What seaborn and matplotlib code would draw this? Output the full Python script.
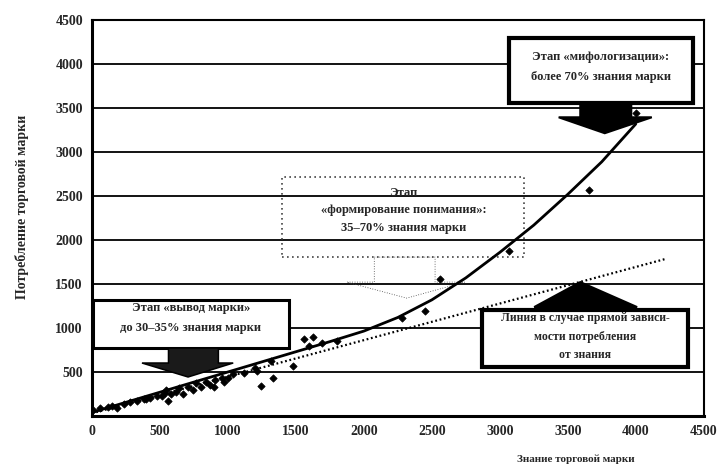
import matplotlib
matplotlib.use("Agg")
import matplotlib.pyplot as plt
import numpy as np
import pandas as pd
import seaborn as sns
from matplotlib.patches import Polygon

# Scatter: brand awareness vs. brand consumption
awareness = [7, 58, 115, 151, 187, 238, 281, 332, 382, 397, 425, 476, 512, 534, 548,
             562, 584, 620, 642, 671, 707, 743, 764, 800, 836, 872, 901, 908, 959,
             973, 1002, 1038, 1118, 1197, 1211, 1247, 1319, 1334, 1478, 1557, 1593,
             1629, 1694, 1802, 2278, 2451, 2560, 3064, 3656, 4002]
consumption = [64, 85, 106, 117, 85, 138, 160, 170, 192, 192, 202, 223, 223, 266, 298,
               170, 245, 277, 319, 245, 330, 298, 372, 330, 383, 351, 330, 404, 426,
               383, 436, 479, 490, 543, 511, 340, 620, 426, 565, 880, 793,
               902, 826, 848, 1110, 1189, 1558, 1872, 2570, 3440]

# Trend curve
curve_x = [0, 250, 500, 750, 1000, 1250, 1500, 1750, 2000, 2250, 2500, 2750,
           3000, 3250, 3500, 3750, 4000]
curve_y = [40, 155, 270, 385, 500, 615, 730, 845, 965, 1120, 1320, 1570,
           1860, 2170, 2520, 2890, 3320]

# Straight-dependence line (dotted)
line_x = [0, 4230]
line_y = [30, 1790]

xticks = [0, 500, 1000, 1500, 2000, 2500, 3000, 3500, 4000, 4500]
yticks = [500, 1000, 1500, 2000, 2500, 3000, 3500, 4000, 4500]

sns.set_style("white")
plt.rcParams['font.family'] = ['Liberation Serif', 'DejaVu Serif']
plt.rcParams['font.weight'] = 'bold'

fig = plt.figure(figsize=(7.24, 4.70), dpi=100)
ax = fig.add_axes([0.127, 0.115, 0.845, 0.842])

pts = pd.DataFrame({"x": awareness, "y": consumption})
sns.scatterplot(data=pts, x="x", y="y", ax=ax, marker="D", s=14,
                color="black", edgecolor="black", linewidth=0.5, zorder=6)
sns.lineplot(x=curve_x, y=curve_y, ax=ax, color="black", linewidth=2.0, zorder=5)
ax.plot(line_x, line_y, color="black", linewidth=1.6, linestyle=(0, (0.8, 1.2)), zorder=5)

ax.set_xlim(0, 4500)
ax.set_ylim(0, 4500)
ax.set_xticks(xticks)
ax.set_yticks(yticks)
ax.tick_params(axis="both", labelsize=10, direction="inout", length=6, width=1.2)
for lab in ax.get_xticklabels() + ax.get_yticklabels():
    lab.set_fontweight("bold")
ax.yaxis.grid(True, color="black", linewidth=1.3)
ax.set_axisbelow(True)
for sp in ax.spines.values():
    sp.set_color("black")
    sp.set_linewidth(1.5)
ax.spines["left"].set_linewidth(2.2)
ax.spines["bottom"].set_linewidth(2.2)

ax.set_xlabel("")
ax.set_ylabel("")
fig.text(0.030, 0.56, "Потребление торговой марки", rotation=90, ha="center",
         va="center", fontsize=10, fontweight="bold")
fig.text(0.795, 0.022, "Знание торговой марки", ha="center", va="center",
         fontsize=8, fontweight="bold")


def callout(box, arrow, fill, lw, ls="-", ec="black", afc="black"):
    x0, y0, x1, y1 = box
    ax.add_patch(Polygon([(x0, y0), (x1, y0), (x1, y1), (x0, y1)], closed=True,
                         facecolor=fill, edgecolor=ec, linewidth=lw, linestyle=ls,
                         zorder=3))
    ax.add_patch(Polygon(arrow, closed=True, facecolor=afc, edgecolor=ec,
                         linewidth=lw * 0.5, linestyle=ls, zorder=3))


# Top-right box with arrow down
callout((3065, 3556, 4421, 4294),
        [(3592, 3556), (3967, 3556), (3967, 3396), (4118, 3396), (3772, 3215),
         (3433, 3396), (3592, 3396)], "white", 3.0)
ax.text(3743, 4078, "Этап «мифологизации»:", ha="center", va="center", fontsize=9,
        fontweight="bold", zorder=4)
ax.text(3743, 3851, "более 70% знания марки", ha="center", va="center", fontsize=9,
        fontweight="bold", zorder=4)

# Middle dotted callout
callout((1399, 1806, 3180, 2715),
        [(2077, 1806), (2524, 1806), (2524, 1522), (2741, 1522), (2315, 1340),
         (1875, 1522), (2077, 1522)], "none", 1.2, ls=(0, (1, 2)), ec="#444444",
        afc="none")
ax.text(2293, 2533, "Этап", ha="center", va="center", fontsize=9, fontweight="bold", zorder=4)
ax.text(2293, 2340, "«формирование понимания»:", ha="center", va="center", fontsize=9,
        fontweight="bold", zorder=4)
ax.text(2293, 2136, "35–70% знания марки", ha="center", va="center", fontsize=9,
        fontweight="bold", zorder=4)

# Left box with arrow down
callout((7, 772, 1450, 1318),
        [(563, 772), (930, 772), (930, 602), (1039, 602), (707, 443),
         (368, 602), (563, 602)], "white", 2.2, afc="#1a1a1a")
ax.text(728, 1227, "Этап «вывод марки»", ha="center", va="center", fontsize=9,
        fontweight="bold", zorder=4)
ax.text(728, 1000, "до 30–35% знания марки", ha="center", va="center", fontsize=9,
        fontweight="bold", zorder=4)

# Bottom-right box with arrow up
callout((2870, 557, 4385, 1204),
        [(3426, 1204), (3844, 1204), (3844, 1238), (4010, 1238), (3592, 1522),
         (3253, 1238), (3426, 1238)], "white", 3.0)
ax.text(3627, 1113, "Линия в случае прямой зависи-", ha="center", va="center",
        fontsize=8.5, fontweight="bold", zorder=4)
ax.text(3627, 897, "мости потребления", ha="center", va="center", fontsize=8.5,
        fontweight="bold", zorder=4)
ax.text(3627, 693, "от знания", ha="center", va="center", fontsize=8.5,
        fontweight="bold", zorder=4)

fig.savefig("out.png", dpi=100)
